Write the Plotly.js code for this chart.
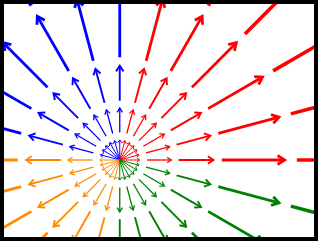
<!DOCTYPE html>
<html>
<head>
<meta charset="utf-8">
<script src="https://cdn.plot.ly/plotly-3.0.1.min.js"></script>
<style>
  html, body { margin: 0; padding: 0; background: #ffffff; }
  #chart { width: 320px; height: 241px; }
</style>
</head>
<body>
<div id="chart"></div>
<script>
// ---- data ----
// directions of the rays, degrees
const angleDeg = [0, 15, 30, 45, 60, 75, 90, 105, 120, 135, 150, 165,
                  180, 195, 210, 225, 240, 255, 270, 285, 300, 315, 330, 345];
// radial position of each arrow's tail (data units), one per ring
const tailR = [0, 0.347, 0.75, 1.30, 2.256];
// length of each arrow (data units), one per ring
const arrowLen = [0.254, 0.31, 0.444, 0.80, 1.45];
// colour group of each quadrant
const quadrantNames = ['I', 'II', 'III', 'IV'];

// ---- styles ----
const quadrantColors = ['#ff0000', '#0000ff', '#ff8c00', '#008000'];
const ringWidth = [1.0, 1.3, 1.9, 2.8, 3.6];
const headLen = [0.035, 0.055, 0.072, 0.09, 0.11];
const headHalf = [0.025, 0.034, 0.047, 0.057, 0.07];

const traces = [];
quadrantNames.forEach((qName, q) => {
  tailR.forEach((r0, ring) => {
    const xs = [], ys = [];
    angleDeg.forEach((deg) => {
      if (Math.floor(deg / 90) !== q) return;
      const t = deg * Math.PI / 180;
      const c = Math.cos(t), s = Math.sin(t);
      const r1 = r0 + arrowLen[ring];
      const tx = r1 * c, ty = r1 * s;
      // shaft
      xs.push(r0 * c, tx, null);
      ys.push(r0 * s, ty, null);
      // chevron head
      const bx = tx - headLen[ring] * c, by = ty - headLen[ring] * s;
      const px = -s * headHalf[ring], py = c * headHalf[ring];
      xs.push(bx + px, tx, bx - px, null);
      ys.push(by + py, ty, by - py, null);
    });
    traces.push({
      type: 'scatter', mode: 'lines', x: xs, y: ys,
      name: qName + ' ring ' + ring,
      line: { color: quadrantColors[q], width: ringWidth[ring] },
      hoverinfo: 'skip', showlegend: false
    });
  });
});

const layout = {
  width: 320, height: 241,
  margin: { l: 1.5, r: 3.5, t: 2, b: 2, pad: 0 },
  paper_bgcolor: '#ffffff', plot_bgcolor: '#ffffff',
  showlegend: false,
  xaxis: { range: [-1.5, 2.5], showgrid: false, zeroline: false, showticklabels: false,
           ticks: '', showline: false, fixedrange: true },
  yaxis: { range: [-1, 2], showgrid: false, zeroline: false, showticklabels: false,
           ticks: '', showline: false, fixedrange: true },
  shapes: [{ type: 'rect', xref: 'paper', yref: 'paper', x0: 0, x1: 1, y0: 0, y1: 1,
             line: { color: '#000000', width: 4 }, fillcolor: 'rgba(0,0,0,0)', layer: 'above' }]
};

Plotly.newPlot('chart', traces, layout, { staticPlot: true, displayModeBar: false });
</script>
</body>
</html>
